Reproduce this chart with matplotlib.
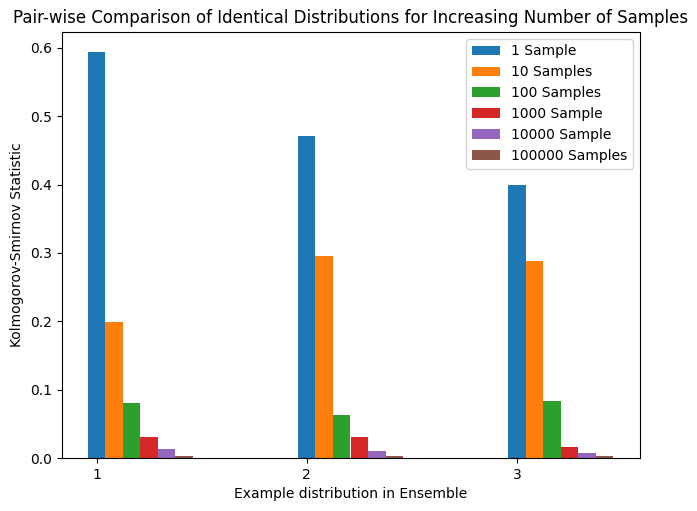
import matplotlib
matplotlib.use("Agg")
import matplotlib.pyplot as plt
import numpy as np

groups = [1, 2, 3]
labels = ["1 Sample", "10 Samples", "100 Samples", "1000 Sample", "10000 Sample", "100000 Samples"]
s1 = [0.594, 0.471, 0.400]
s10 = [0.199, 0.296, 0.288]
s100 = [0.080, 0.063, 0.084]
s1000 = [0.031, 0.031, 0.016]
s10000 = [0.013, 0.010, 0.007]
s100000 = [0.003, 0.003, 0.003]
series = [s1, s10, s100, s1000, s10000, s100000]

fig = plt.figure(figsize=(6.97, 5.11), dpi=100)
ax = fig.add_axes([61.5 / 697, 53 / 511, (639.5 - 61.5) / 697, (458 - 31.8) / 511])
w = 1 / 12
x = np.array(groups, dtype=float)
for i, (vals, lab) in enumerate(zip(series, labels)):
    ax.bar(x + i * w, vals, width=w, label=lab)
ax.set_xticks(groups)
ax.set_xlabel("Example distribution in Ensemble")
ax.set_ylabel("Kolmogorov-Smirnov Statistic")
ax.set_title("Pair-wise Comparison of Identical Distributions for Increasing Number of Samples")
ax.legend(loc="upper right")
fig.savefig("out.png", dpi=100)
